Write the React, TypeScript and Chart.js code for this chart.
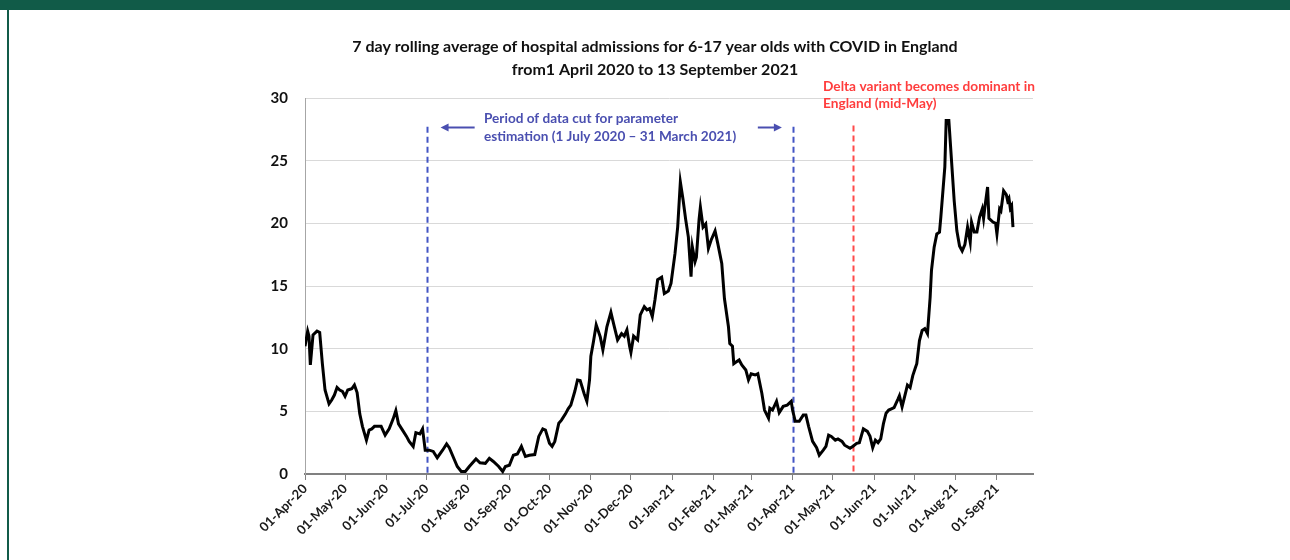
import React, { useEffect, useRef } from "react";
import { Chart, registerables } from "chart.js";

Chart.register(...registerables);

// ---- Data (day index counted from 01-Apr-2020) ----
const MONTH_TICK_DAYS = [0, 30, 61, 91, 122, 153, 183, 214, 244, 275, 306, 334, 365, 395, 426, 456, 487, 518];
const MONTH_TICK_LABELS = [
  "01-Apr-20", "01-May-20", "01-Jun-20", "01-Jul-20", "01-Aug-20", "01-Sep-20",
  "01-Oct-20", "01-Nov-20", "01-Dec-20", "01-Jan-21", "01-Feb-21", "01-Mar-21",
  "01-Apr-21", "01-May-21", "01-Jun-21", "01-Jul-21", "01-Aug-21", "01-Sep-21",
];
const Y_TICKS = [0, 5, 10, 15, 20, 25, 30];

const DAYS = [
  0, 2, 3, 4, 6, 9, 11, 13, 15, 18, 20, 22, 24, 26, 28, 30, 32, 35, 37, 39, 41, 43, 46, 48, 50, 52, 55, 57, 60,
  63, 66, 68, 70, 73, 76, 78, 81, 83, 86, 88, 90, 93, 96, 99, 103, 106, 108, 112, 114, 117, 120, 123, 128, 131,
  135, 138, 141, 145, 148, 150, 153, 156, 159, 162, 165, 168, 172, 175, 178, 180, 183, 185, 187, 190, 192, 195,
  197, 199, 202, 204, 206, 209, 211, 213, 214, 216, 218, 221, 223, 226, 229, 231, 234, 237, 239, 241, 243, 244,
  246, 249, 251, 254, 256, 258, 260, 262, 264, 267, 269, 272, 274, 277, 279, 281, 283, 285, 287, 289, 290, 292,
  293, 295, 296, 298, 300, 302, 304, 307, 309, 312, 314, 317, 318, 320, 321, 323, 325, 327, 330, 332, 334, 337,
  339, 342, 344, 347, 348, 350, 353, 355, 358, 361, 364, 365, 367, 370, 373, 375, 377, 380, 383, 385, 388, 390,
  392, 394, 397, 399, 402, 404, 408, 410, 413, 415, 418, 421, 423, 425, 427, 429, 431, 433, 435, 437, 439, 441,
  444, 445, 447, 450, 451, 453, 455, 457, 458, 460, 462, 464, 466, 468, 469, 471, 473, 475, 476, 479, 480, 482,
  484, 486, 488, 490, 492, 494, 496, 498, 499, 501, 503, 505, 507, 508, 509, 511, 512, 515, 517, 518, 520, 521,
  523, 525, 526, 527, 528, 529, 530,
];
const ADMISSIONS = [
  10.2, 11.4, 11.0, 8.7, 11.1, 11.4, 11.3, 8.8, 6.7, 5.6, 5.9, 6.3, 6.9, 6.7, 6.6, 6.2, 6.7, 6.8, 7.1, 6.5, 4.8,
  3.8, 2.7, 3.5, 3.6, 3.8, 3.8, 3.8, 3.1, 3.6, 4.4, 5.05, 4.0, 3.5, 3.0, 2.6, 2.2, 3.3, 3.2, 3.6, 1.9, 1.9, 1.8,
  1.3, 1.9, 2.4, 2.1, 1.1, 0.6, 0.2, 0.2, 0.6, 1.2, 0.9, 0.85, 1.25, 1.0, 0.6, 0.2, 0.6, 0.7, 1.5, 1.6, 2.2, 1.4,
  1.5, 1.55, 3.0, 3.6, 3.5, 2.45, 2.2, 2.6, 4.05, 4.3, 4.8, 5.2, 5.5, 6.6, 7.5, 7.45, 6.4, 5.8, 7.5, 9.4, 10.6,
  11.9, 10.95, 9.9, 11.75, 12.9, 12.0, 10.7, 11.2, 11.0, 11.5, 10.2, 9.7, 11.0, 10.7, 12.7, 13.35, 13.1, 13.2,
  12.55, 13.9, 15.5, 15.7, 14.4, 14.6, 15.2, 17.6, 19.7, 23.3, 21.9, 20.3, 18.9, 15.75, 18.1, 16.95, 17.3, 20.3,
  21.3, 19.7, 19.95, 18.0, 18.65, 19.4, 18.4, 16.8, 14.0, 11.75, 10.4, 10.2, 8.8, 8.95, 9.1, 8.7, 8.3, 7.5, 8.0,
  7.9, 8.0, 6.45, 5.1, 4.45, 5.25, 5.1, 5.8, 4.9, 5.4, 5.5, 5.8, 5.1, 4.2, 4.2, 4.7, 4.7, 3.8, 2.6, 2.1, 1.5,
  1.9, 2.2, 3.1, 3.0, 2.7, 2.8, 2.6, 2.3, 2.05, 2.2, 2.45, 2.5, 3.6, 3.4, 3.0, 2.1, 2.7, 2.5, 2.8, 4.0, 4.85,
  5.1, 5.2, 5.3, 6.0, 6.25, 5.35, 6.65, 7.1, 6.9, 7.85, 8.5, 8.8, 10.65, 11.45, 11.6, 11.2, 14.1, 16.25, 18.1,
  19.15, 19.3, 20.5, 24.5, 28.2, 28.2, 25.0, 21.8, 19.4, 18.2, 17.8, 18.3, 19.7, 18.5, 20.1, 19.3, 19.3, 20.5,
  21.15, 20.4, 21.3, 22.9, 20.4, 20.1, 20.0, 19.15, 21.15, 21.0, 22.6, 22.3, 21.8, 22.0, 21.2, 21.4, 19.7,
];

const PERIOD_START_DAY = 91; // 1 July 2020
const PERIOD_END_DAY = 365; // 1 April 2021
const DELTA_DAY = 410; // mid-May 2021
const X_MAX_DAY = 545;

const TITLE_LINES = [
  "7 day rolling average of hospital admissions for 6-17 year olds with COVID in England",
  "from1 April 2020 to 13 September 2021",
];
const PERIOD_TEXT = ["Period of data cut for parameter", "estimation (1 July 2020 \u2013 31 March 2021)"];
const DELTA_TEXT = ["Delta variant becomes dominant in", "England (mid-May)"];

const FONT = "Lato, 'Open Sans', sans-serif";

const annotationPlugin = {
  id: "customAnnotations",
  beforeDatasetsDraw(chart: any) {
    const { ctx, scales } = chart;
    const x = scales.x;
    const y = scales.y;
    ctx.save();
    ctx.lineWidth = 2;
    ctx.setLineDash([6, 4]);
    ctx.strokeStyle = "#4254c4";
    for (const d of [PERIOD_START_DAY, PERIOD_END_DAY]) {
      const px = Math.round(x.getPixelForValue(d)) + 0.5;
      ctx.beginPath();
      ctx.moveTo(px, y.getPixelForValue(27.7));
      ctx.lineTo(px, y.getPixelForValue(0));
      ctx.stroke();
    }
    ctx.strokeStyle = "#ff4a4a";
    const rx = Math.round(x.getPixelForValue(DELTA_DAY)) + 0.5;
    ctx.beginPath();
    ctx.moveTo(rx, y.getPixelForValue(27.8));
    ctx.lineTo(rx, y.getPixelForValue(0));
    ctx.stroke();
    ctx.restore();
  },
  afterDraw(chart: any) {
    const { ctx, scales } = chart;
    const x = scales.x;
    const y = scales.y;
    ctx.save();
    // Title
    ctx.fillStyle = "#111111";
    ctx.textAlign = "center";
    ctx.textBaseline = "middle";
    ctx.font = `bold 16px ${FONT}`;
    ctx.fillText(TITLE_LINES[0], 655, 47);
    ctx.fillText(TITLE_LINES[1], 655, 70);

    // Period annotation
    ctx.fillStyle = "#4a4fb0";
    ctx.textAlign = "left";
    ctx.font = `bold 13.6px ${FONT}`;
    ctx.fillText(PERIOD_TEXT[0], 484, 119);
    ctx.fillText(PERIOD_TEXT[1], 484, 137);

    // arrows
    const ay = Math.round(y.getPixelForValue(27.65)) + 0.5;
    const drawArrow = (fromDay: number, toDay: number) => {
      const x0 = x.getPixelForValue(fromDay);
      const x1 = x.getPixelForValue(toDay);
      const dir = Math.sign(x1 - x0);
      ctx.strokeStyle = "#4a4fb0";
      ctx.fillStyle = "#4a4fb0";
      ctx.lineWidth = 2;
      ctx.beginPath();
      ctx.moveTo(x0, ay);
      ctx.lineTo(x1 - dir * 6, ay);
      ctx.stroke();
      ctx.beginPath();
      ctx.moveTo(x1, ay);
      ctx.lineTo(x1 - dir * 8, ay - 4);
      ctx.lineTo(x1 - dir * 8, ay + 4);
      ctx.closePath();
      ctx.fill();
    };
    drawArrow(127, 101.5);
    drawArrow(339, 357);

    // Delta annotation
    ctx.fillStyle = "#ff3d3d";
    ctx.font = `bold 13.7px ${FONT}`;
    ctx.fillText(DELTA_TEXT[0], 823, 87);
    ctx.fillText(DELTA_TEXT[1], 823, 104);
    ctx.restore();
  },
};

export default function App() {
  const canvasRef = useRef<HTMLCanvasElement | null>(null);

  useEffect(() => {
    if (!canvasRef.current) return;
    const points = DAYS.map((d, i) => ({ x: d, y: ADMISSIONS[i] }));
    const chart = new Chart(canvasRef.current, {
      type: "line",
      data: {
        datasets: [
          {
            data: points,
            borderColor: "#000000",
            borderWidth: 3,
            pointRadius: 0,
            tension: 0,
            fill: false,
          },
        ],
      },
      options: {
        responsive: false,
        animation: false,
        devicePixelRatio: 1,
        layout: { padding: { left: 0, right: 257, top: 98, bottom: 0 } },
        plugins: {
          legend: { display: false },
          tooltip: { enabled: false },
          title: { display: false },
        },
        scales: {
          x: {
            type: "linear",
            min: 0,
            max: X_MAX_DAY,
            afterBuildTicks: (scale: any) => {
              scale.ticks = MONTH_TICK_DAYS.map((v) => ({ value: v }));
            },
            afterFit: (scale: any) => {
              scale.height = 86;
            },
            ticks: {
              autoSkip: false,
              maxRotation: 45,
              minRotation: 45,
              padding: 1,
              color: "#1a1a1a",
              font: { family: FONT, weight: "bold", size: 13 },
              callback: (value: any) => {
                const i = MONTH_TICK_DAYS.indexOf(Number(value));
                return i >= 0 ? MONTH_TICK_LABELS[i] : "";
              },
            },
            grid: { drawOnChartArea: false, drawTicks: true, tickLength: 6, color: "#808080", lineWidth: 1 },
            border: { display: true, color: "#808080", width: 2 },
          },
          y: {
            min: 0,
            max: 30,
            afterBuildTicks: (scale: any) => {
              scale.ticks = Y_TICKS.map((v) => ({ value: v }));
            },
            afterFit: (scale: any) => {
              scale.width = 305;
            },
            ticks: {
              padding: 17,
              color: "#111111",
              font: { family: FONT, weight: "bold", size: 15 },
            },
            grid: { color: "#d9d9d9", lineWidth: 1, drawTicks: false },
            border: { display: true, color: "#a6a6a6", width: 1 },
          },
        },
      },
      plugins: [annotationPlugin],
    } as any);
    return () => chart.destroy();
  }, []);

  return (
    <div style={{ position: "absolute", left: 0, top: 0, width: 1290, height: 560, background: "#ffffff", overflow: "hidden" }}>
      <div style={{ position: "absolute", left: 0, top: 0, width: 1290, height: 10, background: "#115b48" }} />
      <div style={{ position: "absolute", left: 7, top: 10, width: 2, height: 550, background: "#115b48" }} />
      <canvas ref={canvasRef} width={1290} height={560} style={{ position: "absolute", left: 0, top: 0, width: 1290, height: 560 }} />
    </div>
  );
}
